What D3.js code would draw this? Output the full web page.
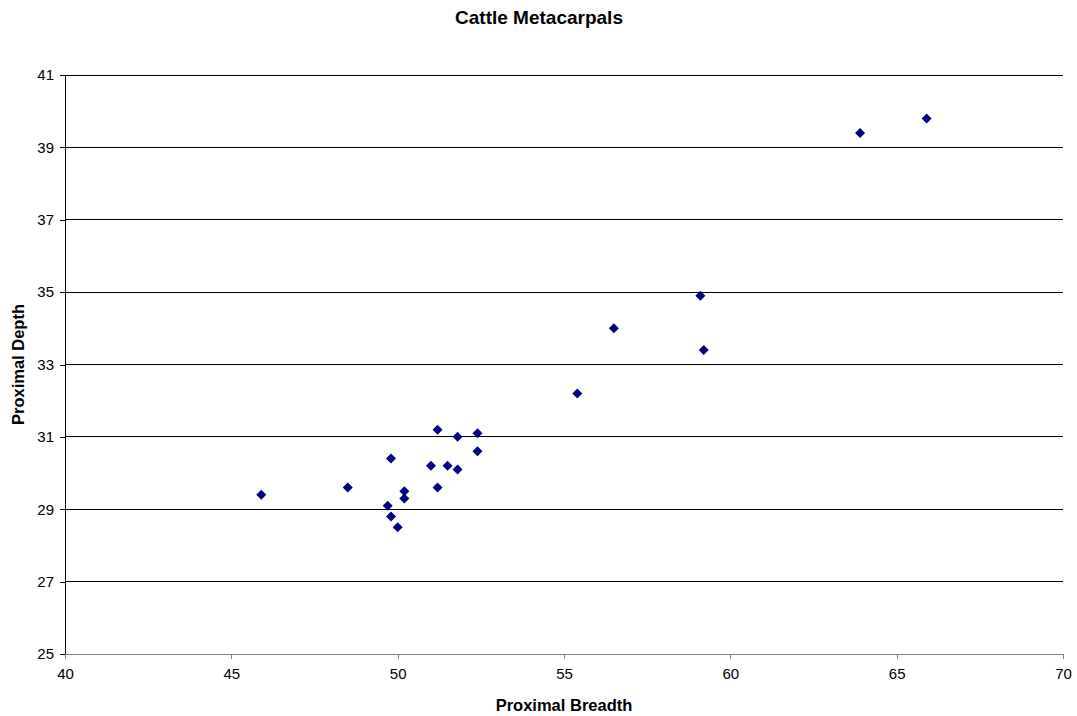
<!DOCTYPE html>
<html lang="en">
<head>
    <meta charset="UTF-8">
    <script src="https://d3js.org/d3.v7.min.js"></script>
    <style>
        body { margin: 0; background: white; }
        text { font-family: "Liberation Sans", Arial, sans-serif; }
    </style>
</head>
<body>
    <svg id="chart" width="1077" height="716"></svg>

    <script>
        // Dữ liệu
        const breadth = [45.9, 48.5, 49.7, 49.8, 50.0, 49.8, 50.2, 50.2, 51.0, 51.2, 51.2,
                         51.5, 51.8, 51.8, 52.4, 52.4, 55.4, 56.5, 59.1, 59.2, 63.9, 65.9];
        const depth   = [29.4, 29.6, 29.1, 28.8, 28.5, 30.4, 29.5, 29.3, 30.2, 31.2, 29.6,
                         30.2, 31.0, 30.1, 31.1, 30.6, 32.2, 34.0, 34.9, 33.4, 39.4, 39.8];
        const xTicks = [40, 45, 50, 55, 60, 65, 70];
        const yTicks = [25, 27, 29, 31, 33, 35, 37, 39, 41];

        const data = breadth.map((b, i) => ({ x: b, y: depth[i] }));

        const width = 1077, height = 716;
        const margin = { top: 75, right: 14, bottom: 62, left: 65 };

        const svg = d3.select("#chart");

        const x = d3.scaleLinear()
            .domain([40, 70])
            .range([margin.left, width - margin.right]);

        const y = d3.scaleLinear()
            .domain([25, 41])
            .range([height - margin.bottom, margin.top]);

        // Lưới ngang
        svg.append("g")
            .selectAll("line")
            .data(yTicks.filter(d => d !== 25))
            .enter().append("line")
            .attr("x1", x(40)).attr("x2", x(70))
            .attr("y1", d => y(d)).attr("y2", d => y(d))
            .attr("stroke", "#000")
            .attr("stroke-width", 1)
            .attr("shape-rendering", "crispEdges");

        // Trục Y
        const yAxis = svg.append("g")
            .attr("transform", `translate(${x(40)},0)`)
            .call(d3.axisLeft(y).tickValues(yTicks).tickSize(5).tickSizeOuter(0).tickPadding(6));
        yAxis.select(".domain").attr("stroke", "#000").attr("shape-rendering", "crispEdges");
        yAxis.selectAll(".tick line").attr("stroke", "#000").attr("shape-rendering", "crispEdges");
        yAxis.selectAll("text").style("font-size", "15px").attr("fill", "#000");

        // Trục X
        const xAxis = svg.append("g")
            .attr("transform", `translate(0,${y(25)})`)
            .call(d3.axisBottom(x).tickValues(xTicks).tickSize(5).tickSizeOuter(0).tickPadding(9));
        xAxis.select(".domain").attr("stroke", "#808080").attr("stroke-width", 1.5)
            .attr("shape-rendering", "crispEdges");
        xAxis.selectAll(".tick line").attr("stroke", "#808080").attr("shape-rendering", "crispEdges");
        xAxis.selectAll("text").style("font-size", "15px").attr("fill", "#000");

        // Điểm hình thoi
        const diamond = d3.symbol().type(d3.symbolSquare).size(50);
        svg.selectAll(".pt")
            .data(data)
            .enter().append("path")
            .attr("class", "pt")
            .attr("d", diamond)
            .attr("transform", d => `translate(${x(d.x)},${y(d.y)}) rotate(45)`)
            .attr("fill", "#000080");

        // Tiêu đề
        svg.append("text")
            .attr("x", 539)
            .attr("y", 24)
            .attr("text-anchor", "middle")
            .style("font-size", "19px")
            .style("font-weight", "bold")
            .text("Cattle Metacarpals");

        svg.append("text")
            .attr("x", (x(40) + x(70)) / 2)
            .attr("y", 711)
            .attr("text-anchor", "middle")
            .style("font-size", "16.5px")
            .style("font-weight", "bold")
            .text("Proximal Breadth");

        svg.append("text")
            .attr("transform", `translate(24,${(y(25) + y(41)) / 2}) rotate(-90)`)
            .attr("text-anchor", "middle")
            .style("font-size", "16.5px")
            .style("font-weight", "bold")
            .text("Proximal Depth");
    </script>
</body>
</html>
